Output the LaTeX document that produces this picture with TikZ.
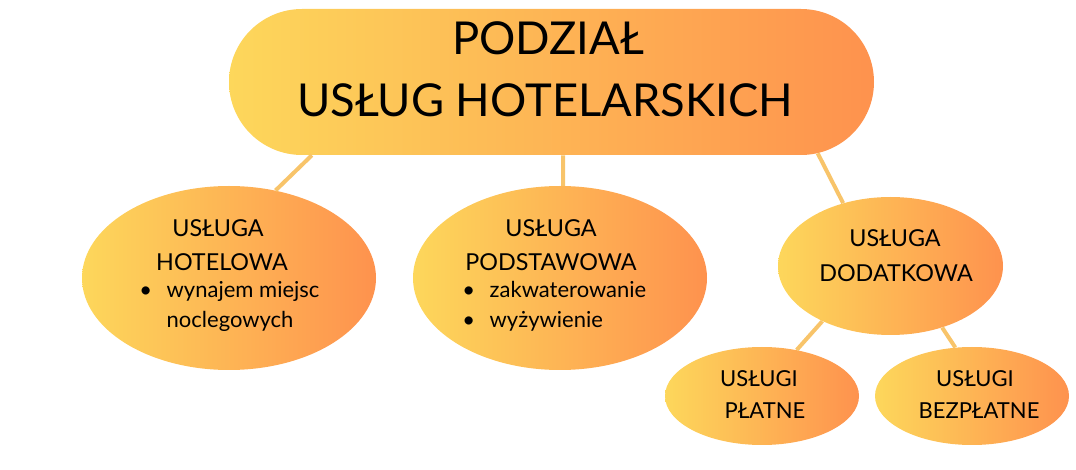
\documentclass[tikz,border=0pt]{standalone}
\usepackage{fontspec}
\setmainfont{Lato}
\usetikzlibrary{shapes.geometric,shapes.misc}
\definecolor{sunny}{RGB}{253,215,91}
\definecolor{tangerine}{RGB}{254,146,78}
\definecolor{twig}{RGB}{248,196,106}
\newcommand{\pt}[1]{\llap{\textbullet\hspace{11pt}}#1}

\begin{document}
\begin{tikzpicture}[x=0.75pt, y=-0.75pt,
  blob/.style={ellipse, inner sep=0pt, left color=sunny, right color=tangerine},
  link/.style={draw=twig, line width=3pt},
  big/.style={font=\fontsize{34}{40}\selectfont, anchor=base},
  head/.style={font=\fontsize{17.5}{21}\selectfont, anchor=base},
  item/.style={font=\fontsize{16.5}{19}\selectfont, anchor=base west},
  small/.style={font=\fontsize{16.5}{20}\selectfont, anchor=base}]
\useasboundingbox (0, 0) rectangle (1076, 470);
% shapes
\node[rounded rectangle, inner sep=0pt, minimum width=483.75pt, minimum height=109.5pt,
  left color=sunny, right color=tangerine](top) at (551.5, 82) {};
\node[blob, minimum width=220.5pt, minimum height=138pt](hotel) at (229, 278) {};
\node[blob, minimum width=220.5pt, minimum height=138pt](basic) at (560, 278) {};
\node[blob, minimum width=168.75pt, minimum height=103.5pt](extra) at (890.5, 266) {};
\node[blob, minimum width=145.5pt, minimum height=73.5pt](paid) at (762, 396) {};
\node[blob, minimum width=145.5pt, minimum height=73.5pt](free) at (972, 396) {};
% links
\draw[link] (top.-163) -- (hotel.62);
\draw[link] (top.-81) -- (basic.88);
\draw[link] (top.-15) -- (extra.127);
\draw[link] (extra.219) -- (paid.53);
\draw[link] (extra.-50) -- (free.109);
% texts
\node[big](t1) at (548, 55) {PODZIAŁ};
\node[big](t2) at (545, 117) {USŁUG HOTELARSKICH};
\node[head](h1) at (218, 237) {USŁUGA};
\node[head](h2) at (222, 271) {HOTELOWA};
\node[item](h3) at (162, 298) {\pt{wynajem miejsc}};
\node[item](h4) at (162, 328) {noclegowych};
\node[head](b1) at (551, 237) {USŁUGA};
\node[head](b2) at (551, 271) {PODSTAWOWA};
\node[item](b3) at (485, 298) {\pt{zakwaterowanie}};
\node[item](b4) at (485, 328) {\pt{wyżywienie}};
\node[head](e1) at (895, 247) {USŁUGA};
\node[head](e2) at (896, 282) {DODATKOWA};
\node[small](p1) at (759, 387) {USŁUGI};
\node[small](p2) at (765, 419) {PŁATNE};
\node[small](f1) at (975, 387) {USŁUGI};
\node[small](f2) at (979, 419) {BEZPŁATNE};
\end{tikzpicture}
\end{document}
